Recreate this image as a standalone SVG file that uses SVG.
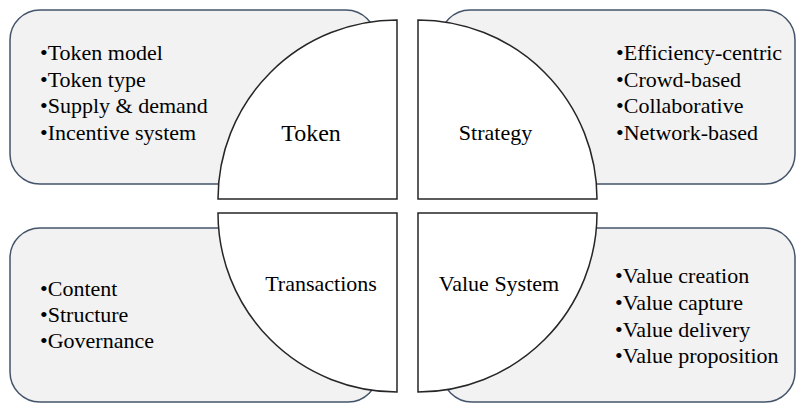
<svg xmlns="http://www.w3.org/2000/svg" width="797" height="404" viewBox="0 0 797 404">
<defs>
<style>
.box{fill:#f2f2f2;stroke:#44546a;stroke-width:1.5}
.q{fill:#ffffff;stroke:#262626;stroke-width:1.5}
.t{font-family:'Liberation Serif','Times New Roman',Times,serif;font-size:22px;fill:#000000}
.c{text-anchor:middle}
</style>
</defs>
<rect width="797" height="404" fill="#ffffff"/>
<g id="connectors"></g>
<g id="box-token"><rect class="box" x="10" y="10" width="366" height="174" rx="30" ry="30"/>
<text class="t" x="40" y="60" font-family="Liberation Serif">•Token model</text>
<text class="t" x="40" y="86.5" font-family="Liberation Serif">•Token type</text>
<text class="t" x="40" y="113" font-family="Liberation Serif">•Supply &amp; demand</text>
<text class="t" x="40" y="139.5" font-family="Liberation Serif">•Incentive system</text></g>
<g id="box-strategy"><rect class="box" x="440" y="10" width="355" height="174" rx="30" ry="30"/>
<text class="t" x="616" y="60" font-family="Liberation Serif">•Efficiency-centric</text>
<text class="t" x="616" y="86.5" font-family="Liberation Serif">•Crowd-based</text>
<text class="t" x="616" y="113" font-family="Liberation Serif">•Collaborative</text>
<text class="t" x="616" y="139.5" font-family="Liberation Serif">•Network-based</text></g>
<g id="box-transactions"><rect class="box" x="10" y="228" width="368" height="174" rx="30" ry="30"/>
<text class="t" x="40" y="296" font-family="Liberation Serif">•Content</text>
<text class="t" x="40" y="322" font-family="Liberation Serif">•Structure</text>
<text class="t" x="40" y="348" font-family="Liberation Serif">•Governance</text></g>
<g id="box-value"><rect class="box" x="442" y="228" width="353" height="174" rx="30" ry="30"/>
<text class="t" x="615" y="283" font-family="Liberation Serif">•Value creation</text>
<text class="t" x="615" y="310" font-family="Liberation Serif">•Value capture</text>
<text class="t" x="615" y="336.5" font-family="Liberation Serif">•Value delivery</text>
<text class="t" x="615" y="363" font-family="Liberation Serif">•Value proposition</text></g>
<g id="q-token"><path class="q" d="M397,199 L218,199 A179,179 0 0 1 397,20 Z"/>
<text class="t c" x="311" y="141" font-family="Liberation Serif" style="font-size:24px">Token</text></g>
<g id="q-strategy"><path class="q" d="M418,199 L418,20 A179,179 0 0 1 597,199 Z"/>
<text class="t c" x="495.5" y="140" font-family="Liberation Serif">Strategy</text></g>
<g id="q-transactions"><path class="q" d="M397,213 L397,392 A179,179 0 0 1 218,213 Z"/>
<text class="t c" x="321" y="291" font-family="Liberation Serif">Transactions</text></g>
<g id="q-value"><path class="q" d="M418,213 L597,213 A179,179 0 0 1 418,392 Z"/>
<text class="t c" x="499" y="291" font-family="Liberation Serif">Value System</text></g>
</svg>
